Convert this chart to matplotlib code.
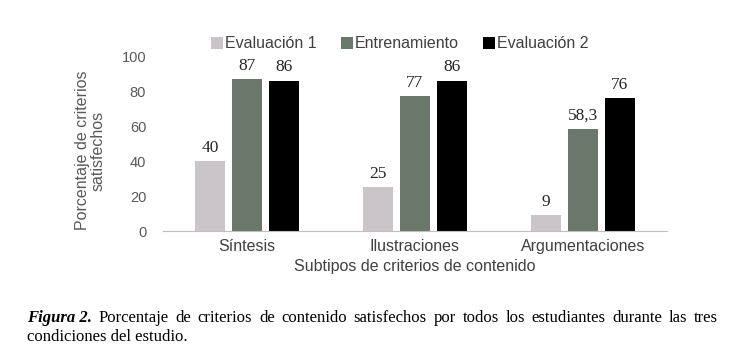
import numpy as np
import matplotlib.pyplot as plt

plt.rcParams['font.family'] = ['Liberation Sans', 'DejaVu Sans']

# Datos
categorias = ['Síntesis', 'Ilustraciones', 'Argumentaciones']
evaluacion1 = [40, 25, 9]
entrenamiento = [87, 77, 58.3]
evaluacion2 = [86, 86, 76]
etiquetas1 = ['40', '25', '9']
etiquetas_ent = ['87', '77', '58,3']
etiquetas2 = ['86', '86', '76']

fig = plt.figure(figsize=(7.4, 3.55), dpi=100)
ax = fig.add_axes([0.220, 0.349, 0.681, 0.493])

x = np.arange(len(categorias))
ancho = 0.178
paso = 0.22
series = [
    (evaluacion1, etiquetas1, '#c9c5c9', 'Evaluación 1'),
    (entrenamiento, etiquetas_ent, '#6b776b', 'Entrenamiento'),
    (evaluacion2, etiquetas2, '#000000', 'Evaluación 2'),
]
for i, (vals, etiq, color, nombre) in enumerate(series):
    pos = x + (i - 1) * paso
    barras = ax.bar(pos, vals, width=ancho, color=color, label=nombre)
    for b, t in zip(barras, etiq):
        ax.text(b.get_x() + b.get_width() / 2, b.get_height() + 3, t,
                ha='center', va='bottom', fontsize=12.5,
                family='Liberation Serif', color='#262626')

ax.set_xlim(-0.5, 2.5)
ax.set_ylim(0, 100)
ax.set_yticks(range(0, 101, 20))
ax.set_xticks(x)
ax.set_xticklabels(categorias, fontsize=11.5, color='#404040')
ax.tick_params(axis='y', length=0, labelsize=10.5, labelcolor='#595959', pad=12)
ax.tick_params(axis='x', length=0, pad=6)
for s in ['top', 'right', 'left']:
    ax.spines[s].set_visible(False)
ax.spines['bottom'].set_color('#bfbfbf')

ax.set_ylabel('Porcentaje de criterios\nsatisfechos', fontsize=11.5,
              color='#595959', linespacing=1.1)
ax.yaxis.set_label_coords(-0.113, 0.46)
ax.set_xlabel('Subtipos de criterios de contenido', fontsize=11.5,
              color='#404040', labelpad=3)

ax.legend(loc='center', bbox_to_anchor=(0.47, 1.07), ncol=3,
          frameon=False, fontsize=11.5, handlelength=0.75, handleheight=0.75,
          handletextpad=0.15, columnspacing=1.5, labelcolor='#404040')

# Pie de figura justificado
fig.canvas.draw()
rend = fig.canvas.get_renderer()
izq, der = 27 / 740, 718 / 740
linea1 = ['Figura 2.', 'Porcentaje', 'de', 'criterios', 'de', 'contenido', 'satisfechos',
          'por', 'todos', 'los', 'estudiantes', 'durante', 'las', 'tres']
textos = []
for j, w in enumerate(linea1):
    kw = dict(fontsize=12, family='Liberation Serif', va='baseline', ha='left')
    if j == 0:
        kw.update(weight='bold', style='italic')
    textos.append(fig.text(0, 1 - 322 / 355, w, **kw))
anchos = [t.get_window_extent(rend).width / fig.bbox.width for t in textos]
hueco = (der - izq - sum(anchos)) / (len(textos) - 1)
pos = izq
for t, a in zip(textos, anchos):
    t.set_x(pos)
    pos += a + hueco
fig.text(izq, 1 - 341 / 355, 'condiciones del estudio.', fontsize=12,
         family='Liberation Serif', va='baseline', ha='left')

fig.savefig('out.png', dpi=100)
